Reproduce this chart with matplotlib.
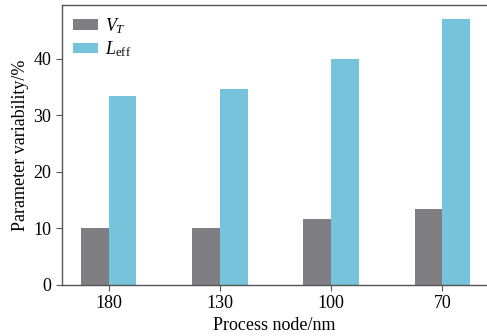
import matplotlib
matplotlib.use("Agg")
import matplotlib.pyplot as plt
import numpy as np

plt.rcParams['font.family'] = ['Liberation Serif', 'DejaVu Serif']
plt.rcParams['mathtext.fontset'] = 'custom'
plt.rcParams['mathtext.rm'] = 'Liberation Serif'
plt.rcParams['mathtext.it'] = 'Liberation Serif:italic'

categories = ['180', '130', '100', '70']
vt = [10.0, 10.0, 11.6, 13.4]
leff = [33.4, 34.6, 40.0, 47.1]
series_labels = [r'$V_T$', r'$L_{\rm eff}$']

fig = plt.figure(figsize=(4.87, 3.36), dpi=100)
ax = fig.add_axes([0.127, 0.152, 0.873, 0.833])
x = np.arange(len(categories))
w = 0.25
ax.bar(x - w/2, vt, w, color='#7f7f83', label=series_labels[0])
ax.bar(x + w/2, leff, w, color='#77c3dc', label=series_labels[1])

ax.set_xticks(x)
ax.set_xticklabels(categories)
ax.set_xlim(-0.42, 3.4)
ax.set_ylim(0, 49.5)
ax.set_yticks([0, 10, 20, 30, 40])
for s in ax.spines.values():
    s.set_color('#555555')
    s.set_linewidth(1.0)
ax.spines['right'].set_visible(False)
ax.tick_params(axis='both', labelsize=13, color='#555555', length=4, direction='out')
ax.set_xlabel('Process node/nm', fontsize=13, labelpad=3)
ax.set_ylabel('Parameter variability/%', fontsize=13, labelpad=3)
ax.legend(loc='upper left', frameon=False, fontsize=13, handlelength=1.4, handleheight=0.5,
          handletextpad=0.4, borderaxespad=0.2, labelspacing=0.2)
fig.savefig('out.png', dpi=100)
